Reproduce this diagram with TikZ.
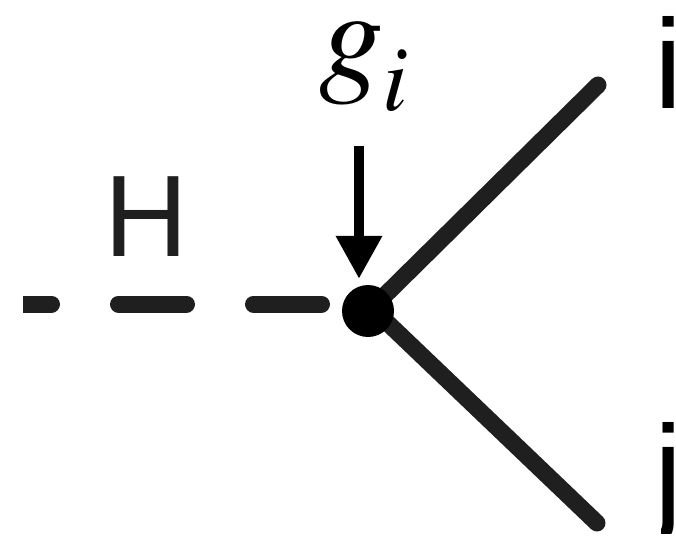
\documentclass[tikz,border=0pt]{standalone}
\usepackage{fontspec}
\setmainfont{Liberation Serif}
\newfontfamily\sansfam{Liberation Sans}
\newcommand\timesit{\fontencoding{OT1}\fontfamily{ptm}\fontshape{it}}
\usetikzlibrary{positioning, arrows.meta}
\definecolor{linea}{HTML}{1F1F1F}
\definecolor{tinta}{HTML}{000000}

\begin{document}
\begin{tikzpicture}[x=1pt, y=-1pt,
    trazo/.style={draw=linea, line width=17pt, line cap=round},
    letra/.style={inner sep=0pt, anchor=base west}]
  \useasboundingbox (0,0) rectangle (676,537);
  \clip (23,0) rectangle (674,533);
  % puntos de la linea
  \coordinate (izq) at (0,304);
  \coordinate (centro) at (368,304);
  \coordinate (union) at (372,308);
  \coordinate (arriba) at (598,85);
  \coordinate (abajo) at (597,523);
  \coordinate (flecha) at (359,146);
  \draw[trazo, dash pattern=on 68pt off 67pt, dash phase=88.5pt] (centro) -- (izq);
  \draw[trazo] (union) -- (arriba);
  \draw[trazo] (union) -- (abajo);
  \node[circle, fill=tinta, minimum size=52pt, inner sep=0pt] (vertice) at (368,311) {};
  \draw[tinta, line width=10pt, -{Triangle[length=43pt, width=44pt]}, shorten >=6pt]
    (flecha) -- (flecha |- vertice.north);
  % etiquetas
  \node[letra, text=linea, font=\sansfam\fontsize{116}{116}\selectfont] (H) at (104,256) {H};
  \node[letra, text=tinta, font=\timesit\fontsize{129}{129}\selectfont] (g) at (319,79) {g};
  \node[letra, text=tinta, font=\timesit\fontsize{93}{93}\selectfont] (gsub) at (382,111) {i};
  \node[letra, text=tinta, font=\sansfam\fontsize{127}{127}\selectfont] (salida1) at (654,109) {i};
  \begin{scope}
    \clip (661,400) rectangle (674,533);
    \node[letra, text=tinta, font=\sansfam\fontsize{127}{127}\selectfont] (salida2) at (654,514) {j};
  \end{scope}
\end{tikzpicture}
\end{document}
